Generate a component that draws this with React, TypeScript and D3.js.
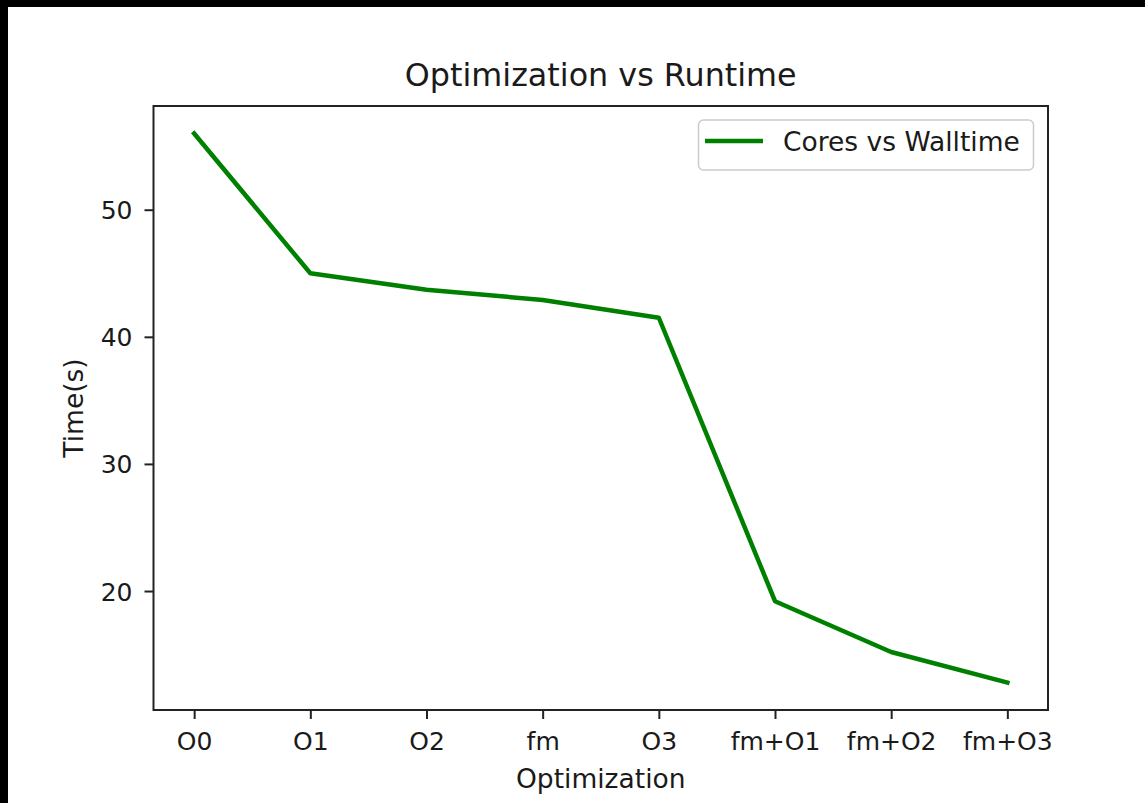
import React, { useEffect, useRef } from "react";
import * as d3 from "d3";

// Optimization flags and measured wall-clock runtime (seconds)
const categories: string[] = ["O0", "O1", "O2", "fm", "O3", "fm+O1", "fm+O2", "fm+O3"];
const runtimes: number[] = [56.0, 45.0, 43.7, 42.9, 41.5, 19.2, 15.2, 12.8];
const yTickValues: number[] = [20, 30, 40, 50];

const title = "Optimization vs Runtime";
const xLabel = "Optimization";
const yLabel = "Time(s)";
const seriesName = "Cores vs Walltime";

const W = 1145;
const H = 803;
const plot = { left: 153.5, right: 1048, top: 106, bottom: 710 };
const FONT = "'DejaVu Sans', sans-serif";
const GREEN = "#008000";
const TICK_FONT = "25px";

export default function App() {
  const xAxisRef = useRef<SVGGElement>(null);
  const yAxisRef = useRef<SVGGElement>(null);

  // matplotlib-style 5% margins around the data
  const n = categories.length;
  const xPad = (n - 1) * 0.05;
  const x = d3.scaleLinear().domain([-xPad, n - 1 + xPad]).range([plot.left, plot.right]);
  const [yMin, yMax] = d3.extent(runtimes) as [number, number];
  const yPad = (yMax - yMin) * 0.05;
  const y = d3.scaleLinear().domain([yMin - yPad, yMax + yPad]).range([plot.bottom, plot.top]);

  const line = d3
    .line<number>()
    .x((_, i) => x(i))
    .y((d) => y(d));

  useEffect(() => {
    if (xAxisRef.current) {
      const g = d3.select(xAxisRef.current);
      g.selectAll("*").remove();
      g.call(
        d3
          .axisBottom(x)
          .tickValues(d3.range(n))
          .tickFormat((d) => categories[d as number])
          .tickSize(9)
      );
      g.select(".domain").remove();
      g.selectAll(".tick line").attr("stroke", "#222").attr("stroke-width", 2);
      g.selectAll(".tick text")
        .attr("y", 40)
        .attr("dy", 0)
        .attr("fill", "#1a1a1a")
        .style("font-family", FONT)
        .style("font-size", TICK_FONT);
    }
    if (yAxisRef.current) {
      const g = d3.select(yAxisRef.current);
      g.selectAll("*").remove();
      g.call(d3.axisLeft(y).tickValues(yTickValues).tickSize(9).tickPadding(12));
      g.select(".domain").remove();
      g.selectAll(".tick line").attr("stroke", "#222").attr("stroke-width", 2);
      g.selectAll(".tick text")
        .attr("dy", "0.36em")
        .attr("fill", "#1a1a1a")
        .style("font-family", FONT)
        .style("font-size", TICK_FONT);
    }
  });

  const cx = (plot.left + plot.right) / 2;
  const cy = (plot.top + plot.bottom) / 2;

  return (
    <svg
      width={W}
      height={H}
      viewBox={`0 0 ${W} ${H}`}
      style={{ position: "absolute", left: 0, top: 0, display: "block", background: "#fff" }}
    >
      <rect x={0} y={0} width={W} height={H} fill="#fff" />
      {/* dark frame strips along the top and left edges */}
      <rect x={0} y={0} width={W} height={7} fill="#000" />
      <rect x={0} y={0} width={8} height={H} fill="#000" />

      <path
        d={line(runtimes) ?? ""}
        fill="none"
        stroke={GREEN}
        strokeWidth={4.5}
        strokeLinejoin="round"
        strokeLinecap="square"
      />

      <rect
        x={plot.left}
        y={plot.top}
        width={plot.right - plot.left}
        height={plot.bottom - plot.top}
        fill="none"
        stroke="#222"
        strokeWidth={2}
      />

      <g ref={xAxisRef} transform={`translate(0,${plot.bottom})`} />
      <g ref={yAxisRef} transform={`translate(${plot.left},0)`} />

      <text x={cx} y={86} textAnchor="middle" fontFamily={FONT} fontSize={31.8} fill="#1a1a1a">
        {title}
      </text>
      <text x={cx} y={788} textAnchor="middle" fontFamily={FONT} fontSize={26.5} fill="#1a1a1a">
        {xLabel}
      </text>
      <text
        transform={`translate(83,${cy}) rotate(-90)`}
        textAnchor="middle"
        fontFamily={FONT}
        fontSize={26.5}
        fill="#1a1a1a"
      >
        {yLabel}
      </text>

      {/* legend */}
      <g>
        <rect
          x={698.5}
          y={120}
          width={335}
          height={50}
          rx={5}
          ry={5}
          fill="#fff"
          fillOpacity={0.8}
          stroke="#cccccc"
          strokeWidth={1.5}
        />
        <line x1={705} x2={763} y1={141} y2={141} stroke={GREEN} strokeWidth={4.5} />
        <text x={783} y={150.5} fontFamily={FONT} fontSize={26.5} fill="#1a1a1a">
          {seriesName}
        </text>
      </g>
    </svg>
  );
}
